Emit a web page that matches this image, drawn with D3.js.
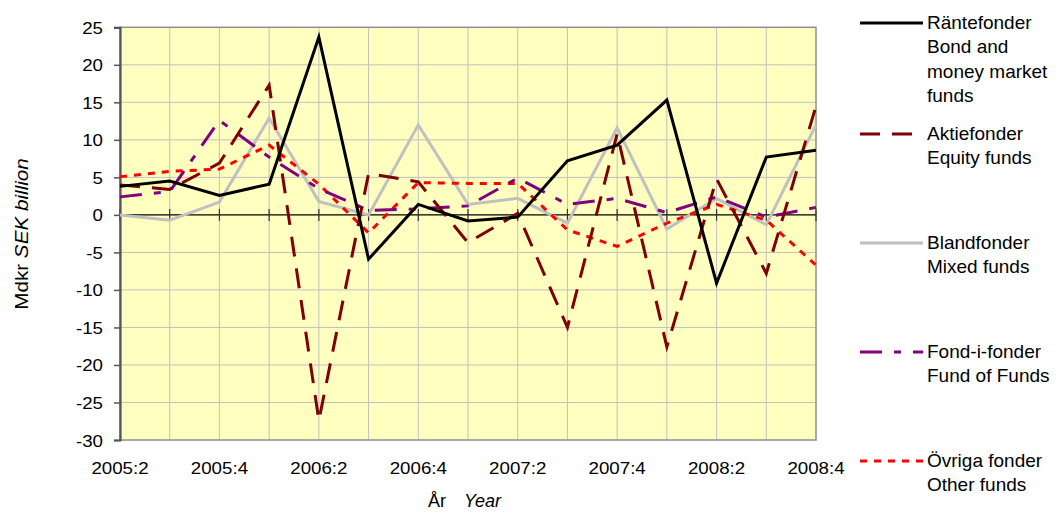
<!DOCTYPE html>
<html>
<head>
<meta charset="utf-8">
<script src="https://cdn.jsdelivr.net/npm/d3@7"></script>
<style>
  body { margin: 0; background: #fff; }
  text { font-family: "Liberation Sans", Arial, sans-serif; fill: #000; }
</style>
</head>
<body>
<div id="chart"></div>
<script>
// quarters on x axis
var quarters = ["2005:2", "2005:3", "2005:4", "2006:1", "2006:2", "2006:3", "2006:4",
                "2007:1", "2007:2", "2007:3", "2007:4", "2008:1", "2008:2", "2008:3", "2008:4"];
var tickLabels = ["2005:2", "2005:4", "2006:2", "2006:4", "2007:2", "2007:4", "2008:2", "2008:4"];
var yTicks = [-30, -25, -20, -15, -10, -5, 0, 5, 10, 15, 20, 25];

// net flows, SEK billion
var rantefonder = [3.8, 4.5, 2.6, 4.1, 23.7, -5.9, 1.4, -0.8, -0.3, 7.2, 9.3, 15.3, -9.1, 7.7, 8.6];
var aktiefonder = [4.0, 3.4, 6.9, 17.3, -27.4, 5.5, 4.4, -3.7, 0.2, -15.0, 10.8, -17.6, 4.8, -7.8, 14.5];
var blandfonder = [0.0, -0.7, 1.7, 12.9, 1.8, 0.0, 12.0, 1.4, 2.2, -1.1, 11.6, -1.9, 2.2, -1.3, 12.0];
var fondIFonder = [2.4, 3.1, 12.6, 7.7, 3.5, 0.6, 0.8, 1.2, 4.9, 1.4, 2.2, 0.3, 2.4, -0.3, 1.0];
var ovriga      = [5.1, 5.8, 6.1, 9.3, 4.1, -2.4, 4.3, 4.2, 4.2, -2.0, -4.2, -1.1, 1.4, -0.7, -6.7];

var seriesNames = [
  ["Räntefonder", "Bond and", "money market", "funds"],
  ["Aktiefonder", "Equity funds"],
  ["Blandfonder", "Mixed funds"],
  ["Fond-i-fonder", "Fund of Funds"],
  ["Övriga fonder", "Other funds"]
];

var series = [
  { values: rantefonder, color: "#000000", dash: null, legendY: 23 },
  { values: aktiefonder, color: "#800000", dash: "20,12", legendY: 134 },
  { values: blandfonder, color: "#C0C0C0", dash: null, legendY: 243 },
  { values: fondIFonder, color: "#800080", dash: "22,12,7,12", legendY: 352 },
  { values: ovriga,      color: "#FF0000", dash: "7,7", legendY: 461 }
];
series.forEach(function(s, i) { s.names = seriesNames[i]; });

var W = 1060, H = 514;
var plot = { left: 120, right: 816, top: 27.3, bottom: 440 };

var svg = d3.select("#chart").append("svg")
  .attr("width", W)
  .attr("height", H);

var x = d3.scalePoint().domain(quarters).range([plot.left, plot.right]);
var y = d3.scaleLinear().domain([-30, 25]).range([plot.bottom, plot.top]);

// background
svg.append("rect")
  .attr("x", plot.left).attr("y", plot.top)
  .attr("width", plot.right - plot.left)
  .attr("height", plot.bottom - plot.top)
  .attr("fill", "#FFFFC0");

// gridlines
svg.append("g").selectAll("line.h")
  .data(yTicks.filter(function(d) { return d != 0 && d != -30 && d != 25; }))
  .enter().append("line")
  .attr("x1", plot.left).attr("x2", plot.right)
  .attr("y1", function(d) { return y(d); })
  .attr("y2", function(d) { return y(d); })
  .attr("stroke", "#C0C0C0").attr("stroke-width", 1);

svg.append("g").selectAll("line.v")
  .data(quarters.slice(1, -1))
  .enter().append("line")
  .attr("y1", plot.top).attr("y2", plot.bottom)
  .attr("x1", function(d) { return x(d); })
  .attr("x2", function(d) { return x(d); })
  .attr("stroke", "#C0C0C0").attr("stroke-width", 1);

// frame
svg.append("rect")
  .attr("x", plot.left).attr("y", plot.top)
  .attr("width", plot.right - plot.left)
  .attr("height", plot.bottom - plot.top)
  .attr("fill", "none")
  .attr("stroke", "#909090").attr("stroke-width", 1.5);

// zero axis with crossing ticks
var gx = svg.append("g")
  .attr("transform", "translate(0," + y(0) + ")");
gx.append("line")
  .attr("x1", plot.left).attr("x2", plot.right)
  .attr("stroke", "#000").attr("stroke-width", 1.2);
gx.selectAll("line.tick")
  .data(quarters)
  .enter().append("line")
  .attr("x1", function(d) { return x(d); })
  .attr("x2", function(d) { return x(d); })
  .attr("y1", -6).attr("y2", 6)
  .attr("stroke", "#333").attr("stroke-width", 1.2);

// x tick labels (bottom)
svg.append("g").selectAll("text")
  .data(tickLabels)
  .enter().append("text")
  .attr("transform", function(d) { return "translate(" + x(d) + ",474) scale(1.17,1)"; })
  .attr("text-anchor", "middle")
  .style("font-size", "16px")
  .text(function(d) { return d; });

// y axis
var gy = svg.append("g")
  .attr("transform", "translate(" + plot.left + ",0)")
  .call(d3.axisLeft(y).tickValues(yTicks).tickSize(6).tickPadding(6)
    .tickFormat(function(d) { return String(d); }));
gy.select(".domain").attr("stroke", "#555").attr("stroke-width", 2.2);
gy.selectAll(".tick line").attr("stroke", "#555").attr("stroke-width", 1.5);
gy.selectAll(".tick text")
  .attr("x", null)
  .attr("dy", null)
  .attr("transform", "translate(-17,6) scale(1.17,1)")
  .style("font-family", "'Liberation Sans', Arial, sans-serif")
  .style("font-size", "16px")
  .attr("fill", "#000");

// lines
var line = d3.line()
  .x(function(d, i) { return x(quarters[i]); })
  .y(function(d) { return y(d); });

var drawOrder = [2, 4, 3, 1, 0];
drawOrder.forEach(function(k) {
  var s = series[k];
  svg.append("path")
    .datum(s.values)
    .attr("d", line)
    .attr("fill", "none")
    .attr("stroke", s.color)
    .attr("stroke-width", 3)
    .attr("stroke-linejoin", "miter")
    .attr("stroke-dasharray", s.dash);
});

// axis titles
var yt = svg.append("text")
  .attr("transform", "translate(28,234) rotate(-90) scale(1.15,1)")
  .attr("text-anchor", "middle")
  .style("font-size", "18px");
yt.append("tspan").text("Mdkr ");
yt.append("tspan").style("font-style", "italic").text("SEK billion");

var xt = svg.append("text")
  .attr("y", 507)
  .style("font-size", "18px");
xt.append("tspan").attr("x", 428).text("År");
xt.append("tspan").attr("x", 464).style("font-style", "italic").text("Year");

// legend
var legend = svg.append("g");
series.forEach(function(s) {
  legend.append("line")
    .attr("x1", 860).attr("x2", 923)
    .attr("y1", s.legendY).attr("y2", s.legendY)
    .attr("stroke", s.color)
    .attr("stroke-width", 3)
    .attr("stroke-dasharray", s.dash);
  var t = legend.append("text")
    .attr("x", 927)
    .attr("y", s.legendY + 6)
    .style("font-size", "19px");
  s.names.forEach(function(n, j) {
    t.append("tspan")
      .attr("x", 927)
      .attr("dy", j == 0 ? 0 : 24.3)
      .text(n);
  });
});
</script>
</body>
</html>
